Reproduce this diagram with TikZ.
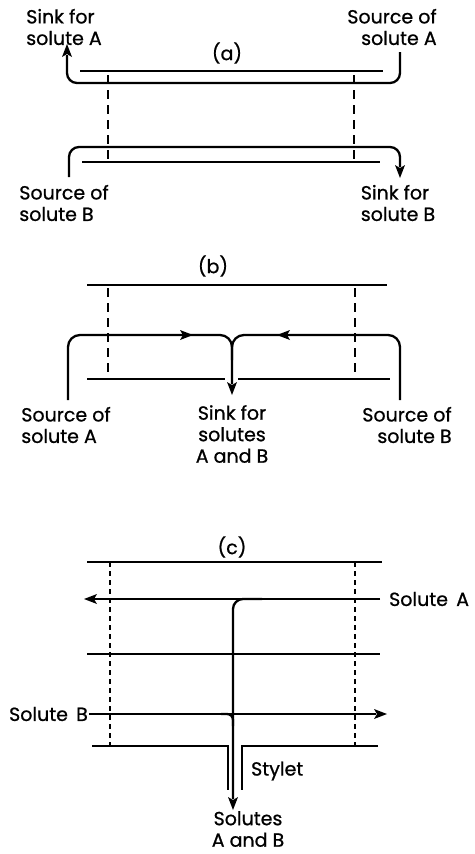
\documentclass[tikz,border=0pt]{standalone}
\usepackage{fontspec}
\setmainfont{Poppins}[FakeBold=0.8]
\begin{document}
\begin{tikzpicture}[x=1pt,y=-1pt,line width=2.3pt]
\tikzstyle{every node}+=[inner sep=0pt,font=\fontsize{19}{21.5}\selectfont]
\tikzstyle{guide}=[line width=1.7pt,dash pattern=on 9pt off 6pt]
\tikzstyle{fineguide}=[line width=1.7pt,dash pattern=on 5pt off 4pt]
\useasboundingbox (0,0) rectangle (474,854);
% (a) counter-current: A along the top, B along the bottom
\node (capa) at (227,53) {(a)};
\node (sinkA) [align=left] at (64,27) {Sink for\\solute A};
\node (srcA) [align=right] at (392,27) {Source of\\solute A};
\node (srcB) [align=left] at (64,203) {Source of\\solute B};
\node (sinkB) [align=left] at (398,203) {Sink for\\solute B};
\draw (80,71) -- (383,71);
\draw (82,162) -- (380,162);
\draw [guide] (108,75) -- (108,163);
\draw [guide] (354,75) -- (354,163);
\draw [rounded corners=10pt] (400,52) -- (400,83) -- (67,83) -- (67,55);
\fill (67,44) -- (72,57) -- (67,54) -- (62,57) -- cycle;
\draw [rounded corners=10pt] (69,177) -- (69,147) -- (400,147) -- (400,167);
\fill (400,178) -- (395,165) -- (400,168) -- (405,165) -- cycle;
% (b) both solutes drawn off at the middle
\node (capb) at (213,266) {(b)};
\node (srcAb) [align=left] at (66,425) {Source of\\solute A};
\node (sinkAB) [align=center] at (232,434) {Sink for\\solutes\\A and B};
\node (srcBb) [align=right] at (407,425) {Source of\\solute B};
\draw (87,285) -- (387,285);
\draw (87,379) -- (225,379);
\draw (238,379) -- (390,379);
\draw [guide] (108,288) -- (108,375);
\draw [guide] (355,288) -- (355,375);
\draw [rounded corners=12pt] (68,400) -- (68,335) -- (232,335) -- (232,384);
\draw [rounded corners=12pt] (400,400) -- (400,335) -- (232,335) -- (232,360);
\fill (193,335) -- (180,330) -- (183,335) -- (180,340) -- cycle;
\fill (277,335) -- (290,330) -- (287,335) -- (290,340) -- cycle;
\fill (232,395) -- (227,382) -- (232,385) -- (237,382) -- cycle;
% (c) stylet
\node (capc) at (232,547) {(c)};
\node (solA) [anchor=west] at (388,599) {Solute\, A};
\node (solB) [anchor=east] at (89,714) {Solute\, B};
\node (stylet) [anchor=west] at (250,771) {Stylet};
\node (solAB) [align=center] at (248,829) {Solutes\\A and B};
\draw (87,562) -- (382,562);
\draw (380,599) -- (94,599);
\fill (84,599) -- (97,594) -- (94,599) -- (97,604) -- cycle;
\draw (87,654) -- (380,654);
\draw (89,714) -- (376,714);
\fill (387,714) -- (374,709) -- (377,714) -- (374,719) -- cycle;
\draw (92,746) -- (228,746) -- (228,790);
\draw (378,746) -- (242,746) -- (242,790);
\draw [fineguide] (110,562) -- (110,750);
\draw [fineguide] (355,562) -- (355,750);
\draw [rounded corners=10pt] (262,599) -- (233,599) -- (233,799);
\fill (233,810) -- (228,797) -- (233,800) -- (238,797) -- cycle;
\draw [rounded corners=6pt] (221,714) -- (233,714) -- (233,726);
\end{tikzpicture}
\end{document}
